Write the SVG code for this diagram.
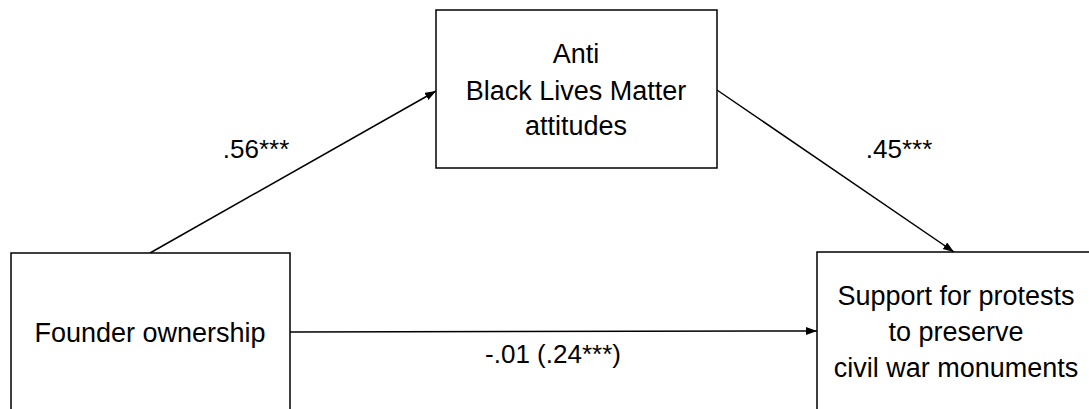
<svg xmlns="http://www.w3.org/2000/svg" width="1089" height="409" viewBox="0 0 1089 409">
<style>
.box{fill:#fff;stroke:#000;stroke-width:1.5}
.t{font-family:"Liberation Sans",Arial,sans-serif;font-size:27px;fill:#000;text-anchor:middle}
.lbl{font-family:"Liberation Sans",Arial,sans-serif;font-size:26px;fill:#000;text-anchor:middle}
.edge{stroke:#000;stroke-width:1.5;fill:none;marker-end:url(#arr)}
</style>
<defs>
<marker id="arr" markerUnits="userSpaceOnUse" markerWidth="12" markerHeight="9" refX="11" refY="4" orient="auto">
<path d="M0,0 L11,4 L0,8 z" fill="#000"/>
</marker>
</defs>
<rect width="1089" height="409" fill="#fff"/>
<g id="connectors">
<line class="edge" x1="150" y1="253" x2="436" y2="91"/>
<line class="edge" x1="717" y1="90" x2="954" y2="252"/>
<line class="edge" x1="290" y1="332" x2="817" y2="331"/>
<text class="lbl" x="256" y="158">.56***</text>
<text class="lbl" x="899" y="158">.45***</text>
<text class="lbl" x="553" y="363">-.01 (.24***)</text>
</g>
<g id="node-mediator">
<rect class="box" x="436" y="10" width="281" height="158"/>
<text class="t" x="576" y="63">Anti</text>
<text class="t" x="576" y="100">Black Lives Matter</text>
<text class="t" x="576" y="135">attitudes</text>
</g>
<g id="node-founder">
<rect class="box" x="11" y="253" width="279" height="170"/>
<text class="t" x="150" y="342">Founder ownership</text>
</g>
<g id="node-support">
<rect class="box" x="817" y="252" width="280" height="170"/>
<text class="t" x="956" y="305">Support for protests</text>
<text class="t" x="956" y="341">to preserve</text>
<text class="t" x="956" y="377">civil war monuments</text>
</g>
</svg>
